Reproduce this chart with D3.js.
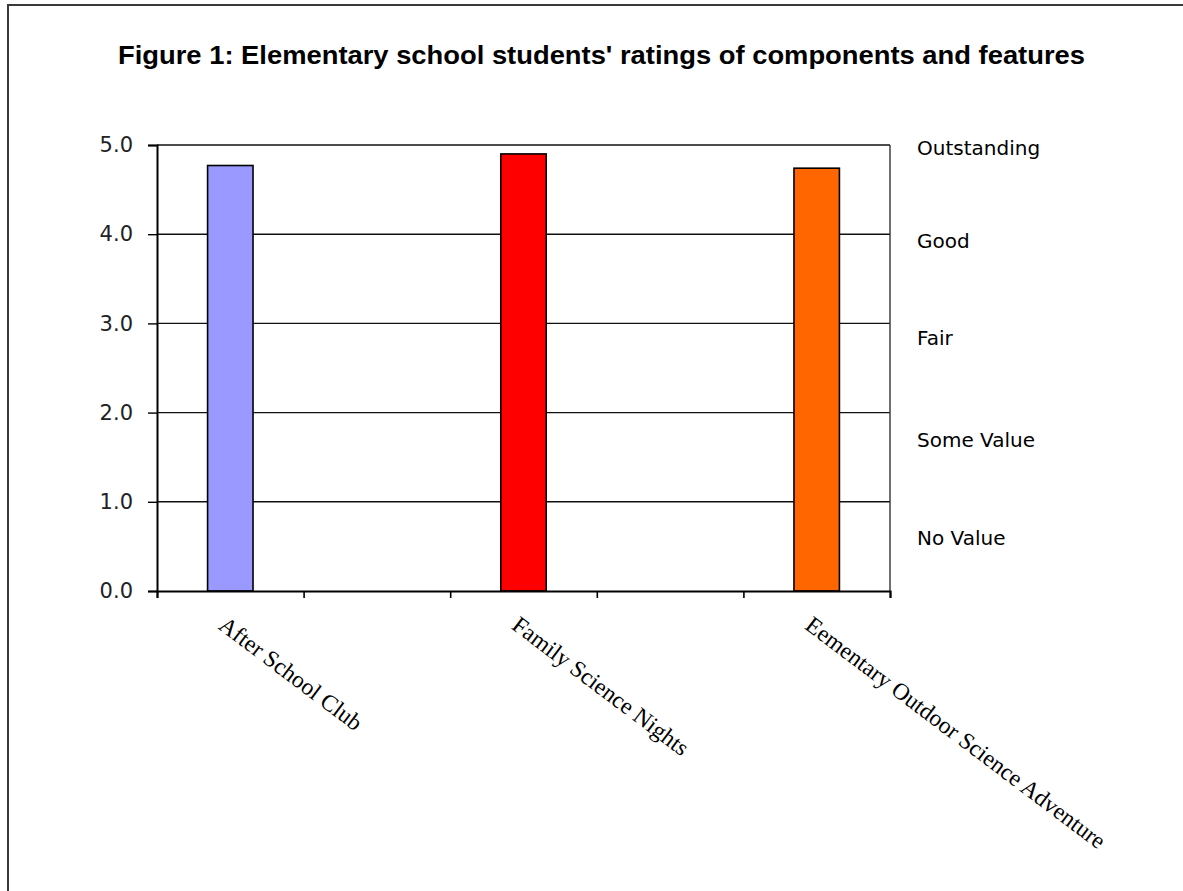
<!DOCTYPE html>
<html>
<head>
<meta charset="utf-8">
<script src="https://cdn.jsdelivr.net/npm/d3@7/dist/d3.min.js"></script>
<style>
  html, body { margin: 0; padding: 0; background: #fff; }
  svg { display: block; }
</style>
</head>
<body>
<svg id="chart" width="1183" height="891"></svg>
<script>
// Mean ratings per program (1 = No Value ... 5 = Outstanding); empty slots separate the bars
const categories = ["After School Club", "", "Family Science Nights", "", "Eementary Outdoor Science Adventure"];
const ratings = [4.77, null, 4.90, null, 4.74];
const barColors = ["#9999ff", null, "#ff0000", null, "#ff6600"];
const yTicks = [0, 1, 2, 3, 4, 5];
const scaleLabels = ["Outstanding", "Good", "Fair", "Some Value", "No Value"];
const scaleLabelAt = [4.97, 3.93, 2.84, 1.70, 0.60];
const title = "Figure 1: Elementary school students' ratings of components and features";

const svg = d3.select("#chart");
const plot = { left: 157, right: 890, top: 145, bottom: 591 };

// outer chart frame
svg.append("rect")
  .attr("x", 8).attr("y", 5)
  .attr("width", 1400).attr("height", 1200)
  .attr("fill", "#fff").attr("stroke", "#3a3a3a").attr("stroke-width", 2);

const x = d3.scaleBand().domain(d3.range(categories.length)).range([plot.left, plot.right]).padding(0);
const xEdges = d3.scaleLinear().domain([0, categories.length]).range([plot.left, plot.right]);
const y = d3.scaleLinear().domain([0, 5]).range([plot.bottom, plot.top]);

// title, condensed to fit its width
svg.append("text")
  .attr("x", 118).attr("y", 64)
  .attr("font-family", "'Liberation Sans Narrow', 'Arial Narrow', 'Liberation Sans', sans-serif")
  .attr("font-weight", "bold")
  .attr("font-size", 25)
  .attr("fill", "#000")
  .attr("textLength", 967)
  .attr("lengthAdjust", "spacingAndGlyphs")
  .text(title);

// horizontal gridlines
svg.append("g")
  .selectAll("line")
  .data(yTicks.filter(d => d > 0))
  .join("line")
  .attr("x1", plot.left).attr("x2", plot.right)
  .attr("y1", d => y(d)).attr("y2", d => y(d))
  .attr("stroke", "#111").attr("stroke-width", 1.4);

// right edge of plot area
svg.append("line")
  .attr("x1", plot.right).attr("x2", plot.right)
  .attr("y1", plot.top).attr("y2", plot.bottom)
  .attr("stroke", "#333").attr("stroke-width", 1.4);

// bars
const bw = x.bandwidth() * 0.31;
svg.append("g")
  .selectAll("rect")
  .data(ratings.map((v, i) => ({ i, v, c: barColors[i] })).filter(d => d.v != null))
  .join("rect")
  .attr("x", d => x(d.i) + (x.bandwidth() - bw) / 2)
  .attr("width", bw)
  .attr("y", d => y(d.v))
  .attr("height", d => y(0) - y(d.v))
  .attr("fill", d => d.c)
  .attr("stroke", "#000")
  .attr("stroke-width", 1.6);

// y axis
const yAxis = svg.append("g")
  .attr("transform", `translate(${plot.left},0)`)
  .call(d3.axisLeft(y).tickValues(yTicks).tickFormat(d3.format(".1f")).tickSize(9).tickPadding(15));
yAxis.select(".domain").attr("stroke", "#000").attr("stroke-width", 2);
yAxis.selectAll(".tick line").attr("stroke", "#000").attr("stroke-width", 1.4);
yAxis.selectAll(".tick text")
  .attr("font-family", "'DejaVu Sans', Verdana, sans-serif")
  .attr("font-size", 21)
  .attr("fill", "#222");

// x axis with ticks on category boundaries
const xAxis = svg.append("g")
  .attr("transform", `translate(0,${plot.bottom})`)
  .call(d3.axisBottom(xEdges).ticks(categories.length).tickFormat("").tickSize(7).tickSizeOuter(7));
xAxis.select(".domain").attr("stroke", "#000").attr("stroke-width", 2);
xAxis.selectAll(".tick line").attr("stroke", "#000").attr("stroke-width", 1.6);

// rotated category labels
svg.append("g")
  .selectAll("text")
  .data(categories.map((c, i) => ({ c, i })).filter(d => d.c))
  .join("text")
  .attr("transform", d => `translate(${x(d.i) + x.bandwidth() / 2 - 13},628) rotate(37)`)
  .attr("font-family", "'Liberation Serif', 'Times New Roman', serif")
  .attr("font-size", 23.5)
  .attr("fill", "#000")
  .text(d => d.c);

// rating scale captions on the right
svg.append("g")
  .selectAll("text")
  .data(scaleLabels.map((s, i) => ({ s, v: scaleLabelAt[i] })))
  .join("text")
  .attr("x", 917)
  .attr("y", d => y(d.v))
  .attr("dy", "0.36em")
  .attr("font-family", "'DejaVu Sans', Verdana, sans-serif")
  .attr("font-size", 20)
  .attr("fill", "#000")
  .text(d => d.s);
</script>
</body>
</html>
